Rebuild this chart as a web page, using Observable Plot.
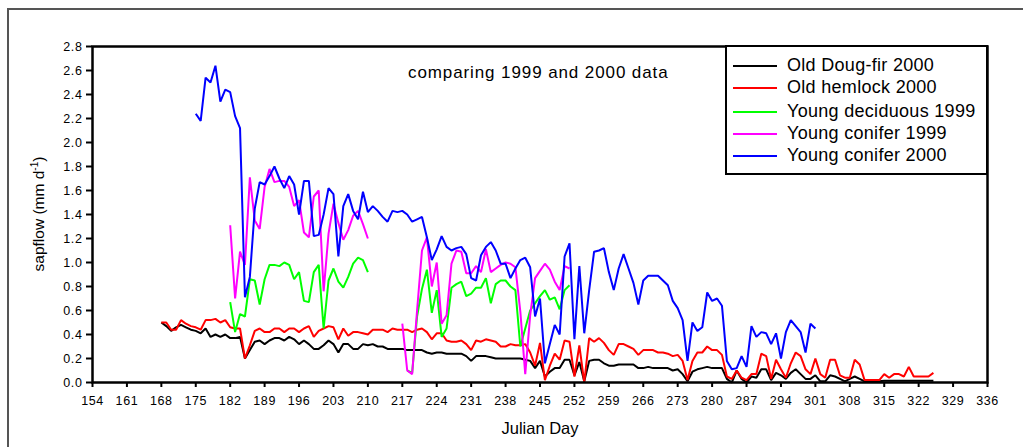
<!DOCTYPE html>
<html>
<head>
<meta charset="utf-8">
<script src="https://cdn.jsdelivr.net/npm/d3@7"></script>
<script src="https://cdn.jsdelivr.net/npm/@observablehq/plot@0.6"></script>
<style>
  html, body { margin: 0; padding: 0; background: #fff; }
  #wrap { position: relative; width: 1023px; height: 447px; overflow: hidden; font-family: Arial, "Liberation Sans", sans-serif; color: #000; }
  #outer { position: absolute; left: 7px; top: 8px; width: 1030px; height: 460px; border-top: 2px solid #555; border-left: 2px solid #555; box-sizing: border-box; }
  #chart { position: absolute; left: 0; top: 0; }
  #legend { position: absolute; left: 725px; top: 45px; width: 263px; height: 130px; border: 2px solid #000; background: #fff; box-sizing: border-box; }
  .row { position: absolute; left: 6px; height: 20px; white-space: nowrap; font-size: 18px; letter-spacing: 0.3px; }
  .row .sw { position: absolute; left: 0; top: 9px; width: 44px; height: 2px; }
  .row .lab { position: absolute; left: 54px; top: -1px; line-height: 20px; }
  #note { position: absolute; left: 408px; top: 63px; font-size: 17px; letter-spacing: 0.9px; white-space: nowrap; }
  #ylab { position: absolute; left: 38px; top: 214px; transform: translate(-50%, -50%) rotate(-90deg); font-size: 15.5px; white-space: nowrap; }
  #ylab sup { font-size: 10px; vertical-align: 6px; }
  #xlab { position: absolute; left: 540px; top: 428px; transform: translate(-50%, -50%); font-size: 16.5px; white-space: nowrap; }
</style>
</head>
<body>
<div id="wrap">
  <div id="outer"></div>
  <div id="chart"></div>
  <div id="note">comparing 1999 and 2000 data</div>
  <div id="ylab">sapflow (mm d<sup>-1</sup>)</div>
  <div id="xlab">Julian Day</div>
  <div id="legend"></div>
</div>
<script>
// ---- Data (Julian day series, value = sapflow in mm/d) ----
const xTicks = [154,161,168,175,182,189,196,203,210,217,224,231,238,245,252,259,266,273,280,287,294,301,308,315,322,329,336];
const yTicks = [0,0.2,0.4,0.6,0.8,1.0,1.2,1.4,1.6,1.8,2.0,2.2,2.4,2.6,2.8];

const seriesNames = ["Old Doug-fir 2000","Old hemlock 2000","Young deciduous 1999","Young conifer 1999","Young conifer 2000"];
const seriesColors = ["#000000","#ff0000","#00ff00","#ff00ff","#0000ff"];

// Old Doug-fir 2000: days 168..325
const dougfirStart = 168;
const dougfir = [
  0.50,0.47,0.43,0.46,0.48,0.46,0.44,0.43,0.41,0.45,0.38,0.40,0.38,0.40,0.37,0.37,0.38,0.20,0.27,0.34,
  0.35,0.32,0.35,0.37,0.37,0.35,0.38,0.36,0.32,0.35,0.32,0.28,0.28,0.31,0.35,0.32,0.25,0.32,0.32,0.28,
  0.28,0.32,0.31,0.32,0.30,0.30,0.28,0.28,0.28,0.28,0.27,0.27,0.27,0.27,0.25,0.24,0.25,0.25,0.24,0.24,
  0.24,0.24,0.22,0.18,0.22,0.22,0.22,0.21,0.20,0.20,0.20,0.20,0.20,0.20,0.19,0.18,0.12,0.18,0.05,0.09,
  0.12,0.12,0.19,0.19,0.06,0.17,0.01,0.18,0.19,0.19,0.16,0.14,0.14,0.15,0.15,0.15,0.15,0.12,0.12,0.13,
  0.12,0.12,0.12,0.12,0.10,0.11,0.07,0.01,0.09,0.11,0.12,0.13,0.12,0.12,0.12,0.03,0.00,0.10,0.03,0.00,
  0.05,0.04,0.11,0.11,0.02,0.08,0.06,0.03,0.08,0.11,0.07,0.03,0.03,0.06,0.01,0.01,0.06,0.05,0.03,0.01,
  0.03,0.05,0.03,0.01,0.01,0.01,0.01,0.015,0.015,0.015,0.015,0.015,0.015,0.015,0.015,0.015,0.015,0.015
];

// Old hemlock 2000: days 168..325
const hemlockStart = 168;
const hemlock = [
  0.50,0.50,0.44,0.44,0.52,0.49,0.47,0.46,0.44,0.52,0.52,0.53,0.50,0.52,0.46,0.45,0.45,0.20,0.31,0.43,
  0.45,0.42,0.42,0.45,0.45,0.42,0.45,0.45,0.42,0.45,0.47,0.38,0.43,0.45,0.47,0.46,0.36,0.45,0.39,0.42,
  0.42,0.41,0.40,0.44,0.44,0.44,0.42,0.45,0.44,0.44,0.44,0.42,0.44,0.45,0.42,0.36,0.41,0.41,0.35,0.34,
  0.34,0.35,0.32,0.27,0.35,0.34,0.36,0.35,0.34,0.30,0.30,0.32,0.31,0.31,0.32,0.25,0.14,0.33,0.02,0.14,
  0.24,0.19,0.35,0.34,0.05,0.31,0.00,0.37,0.34,0.37,0.33,0.27,0.23,0.32,0.32,0.30,0.28,0.23,0.27,0.27,
  0.27,0.25,0.25,0.24,0.22,0.23,0.18,0.02,0.18,0.25,0.25,0.30,0.27,0.27,0.23,0.05,0.03,0.10,0.04,0.02,
  0.07,0.07,0.24,0.22,0.03,0.19,0.11,0.04,0.16,0.25,0.22,0.11,0.07,0.20,0.07,0.04,0.19,0.19,0.06,0.04,
  0.04,0.19,0.15,0.02,0.02,0.02,0.02,0.07,0.04,0.07,0.07,0.05,0.13,0.05,0.05,0.05,0.05,0.08
];

// Young deciduous 1999: days 182..251 (no data 211..217)
const deciduousStart = 182;
const deciduous = [
  0.67,0.42,0.57,0.55,0.86,0.85,0.65,0.86,0.98,0.98,0.97,1.00,0.98,0.86,0.92,0.68,0.67,0.92,0.98,0.45,
  0.85,0.95,0.84,0.79,0.88,0.99,1.04,1.02,0.92,
  null,null,null,null,null,null,null,
  0.10,0.08,0.55,0.78,0.94,0.58,0.77,0.38,0.45,0.79,0.82,0.84,0.72,0.74,0.79,0.79,0.87,0.66,0.82,0.85,
  0.85,0.80,0.77,0.30,0.45,0.60,0.66,0.72,0.77,0.69,0.71,0.61,0.77,0.81
];

// Young conifer 1999: days 182..251 (no data 211..216)
const conifer99Start = 182;
const conifer99 = [
  1.31,0.70,1.09,0.98,1.71,1.35,1.28,1.63,1.78,1.67,1.68,1.68,1.63,1.47,1.52,1.25,1.21,1.55,1.60,0.76,
  1.24,1.49,1.33,1.19,1.27,1.39,1.43,1.32,1.20,
  null,null,null,null,null,null,
  0.49,0.10,0.07,0.60,1.10,1.21,0.80,1.00,0.49,0.56,0.99,1.10,1.09,0.91,0.91,0.97,0.92,1.11,0.92,0.95,
  0.98,1.00,0.99,0.96,0.59,0.07,0.56,0.87,0.93,0.99,0.94,0.84,0.77,0.97,0.95
];

// Young conifer 2000: days 175..301
const conifer00Start = 175;
const conifer00 = [
  2.24,2.18,2.54,2.50,2.64,2.34,2.44,2.42,2.22,2.12,0.71,0.88,1.45,1.67,1.65,1.72,1.80,1.70,1.62,1.72,
  1.65,1.40,1.68,1.68,1.22,1.23,1.40,1.62,1.57,1.05,1.47,1.57,1.43,1.36,1.59,1.42,1.47,1.43,1.38,1.34,
  1.43,1.42,1.43,1.40,1.34,1.36,1.38,1.21,1.02,1.11,1.22,1.13,1.10,1.12,1.13,1.07,0.87,0.85,1.06,1.13,
  1.17,1.10,0.99,0.99,0.87,0.95,1.02,1.04,0.96,0.55,0.70,0.16,0.32,0.48,0.40,1.05,1.16,0.36,0.97,0.41,
  0.77,1.09,1.10,1.12,0.92,0.77,0.95,1.07,0.95,0.83,0.65,0.85,0.89,0.89,0.89,0.85,0.81,0.68,0.62,0.52,
  0.18,0.50,0.43,0.46,0.75,0.68,0.70,0.64,0.18,0.11,0.12,0.22,0.13,0.47,0.38,0.42,0.41,0.32,0.41,0.20,
  0.42,0.52,0.47,0.42,0.25,0.49,0.45
];

// ---- Build tidy table ----
const raw = [
  [dougfirStart, dougfir],
  [hemlockStart, hemlock],
  [deciduousStart, deciduous],
  [conifer99Start, conifer99],
  [conifer00Start, conifer00]
];
const rows = [];
raw.forEach(([start, vals], si) => {
  vals.forEach((v, i) => rows.push({series: seriesNames[si], day: start + i, value: v}));
});

const font = 'Arial, "Liberation Sans", sans-serif';

const chart = Plot.plot({
  width: 1023,
  height: 447,
  marginLeft: 92,
  marginRight: 36,
  marginTop: 46,
  marginBottom: 65,
  style: {fontFamily: font, fontSize: "12.5px", color: "#000", background: "transparent", overflow: "visible", letterSpacing: "0.6px"},
  x: {domain: [154, 336]},
  y: {domain: [0, 2.8]},
  color: {domain: seriesNames, range: seriesColors},
  marks: [
    Plot.axisX({ticks: xTicks, tickSize: 5, tickPadding: 9, tickFormat: d => String(d), label: null, strokeWidth: 2}),
    Plot.axisY({ticks: yTicks, tickSize: 6, tickPadding: 4, tickFormat: d => d.toFixed(1), label: null, strokeWidth: 2}),
    Plot.line(rows, {
      x: "day", y: "value", z: "series", stroke: "series",
      strokeWidth: 2, curve: "linear", strokeLinejoin: "miter", strokeLinecap: "butt"
    }),
    Plot.frame({stroke: "#000", strokeWidth: 2.5})
  ]
});
document.getElementById("chart").appendChild(chart);

// ---- Legend ----
const legend = document.getElementById("legend");
const rowTops = [9, 31, 55, 77, 99];
seriesNames.forEach((name, i) => {
  const r = document.createElement("div");
  r.className = "row";
  r.style.top = rowTops[i] + "px";
  const sw = document.createElement("div");
  sw.className = "sw";
  sw.style.background = seriesColors[i];
  const lab = document.createElement("div");
  lab.className = "lab";
  lab.textContent = name;
  r.appendChild(sw);
  r.appendChild(lab);
  legend.appendChild(r);
});
</script>
</body>
</html>
